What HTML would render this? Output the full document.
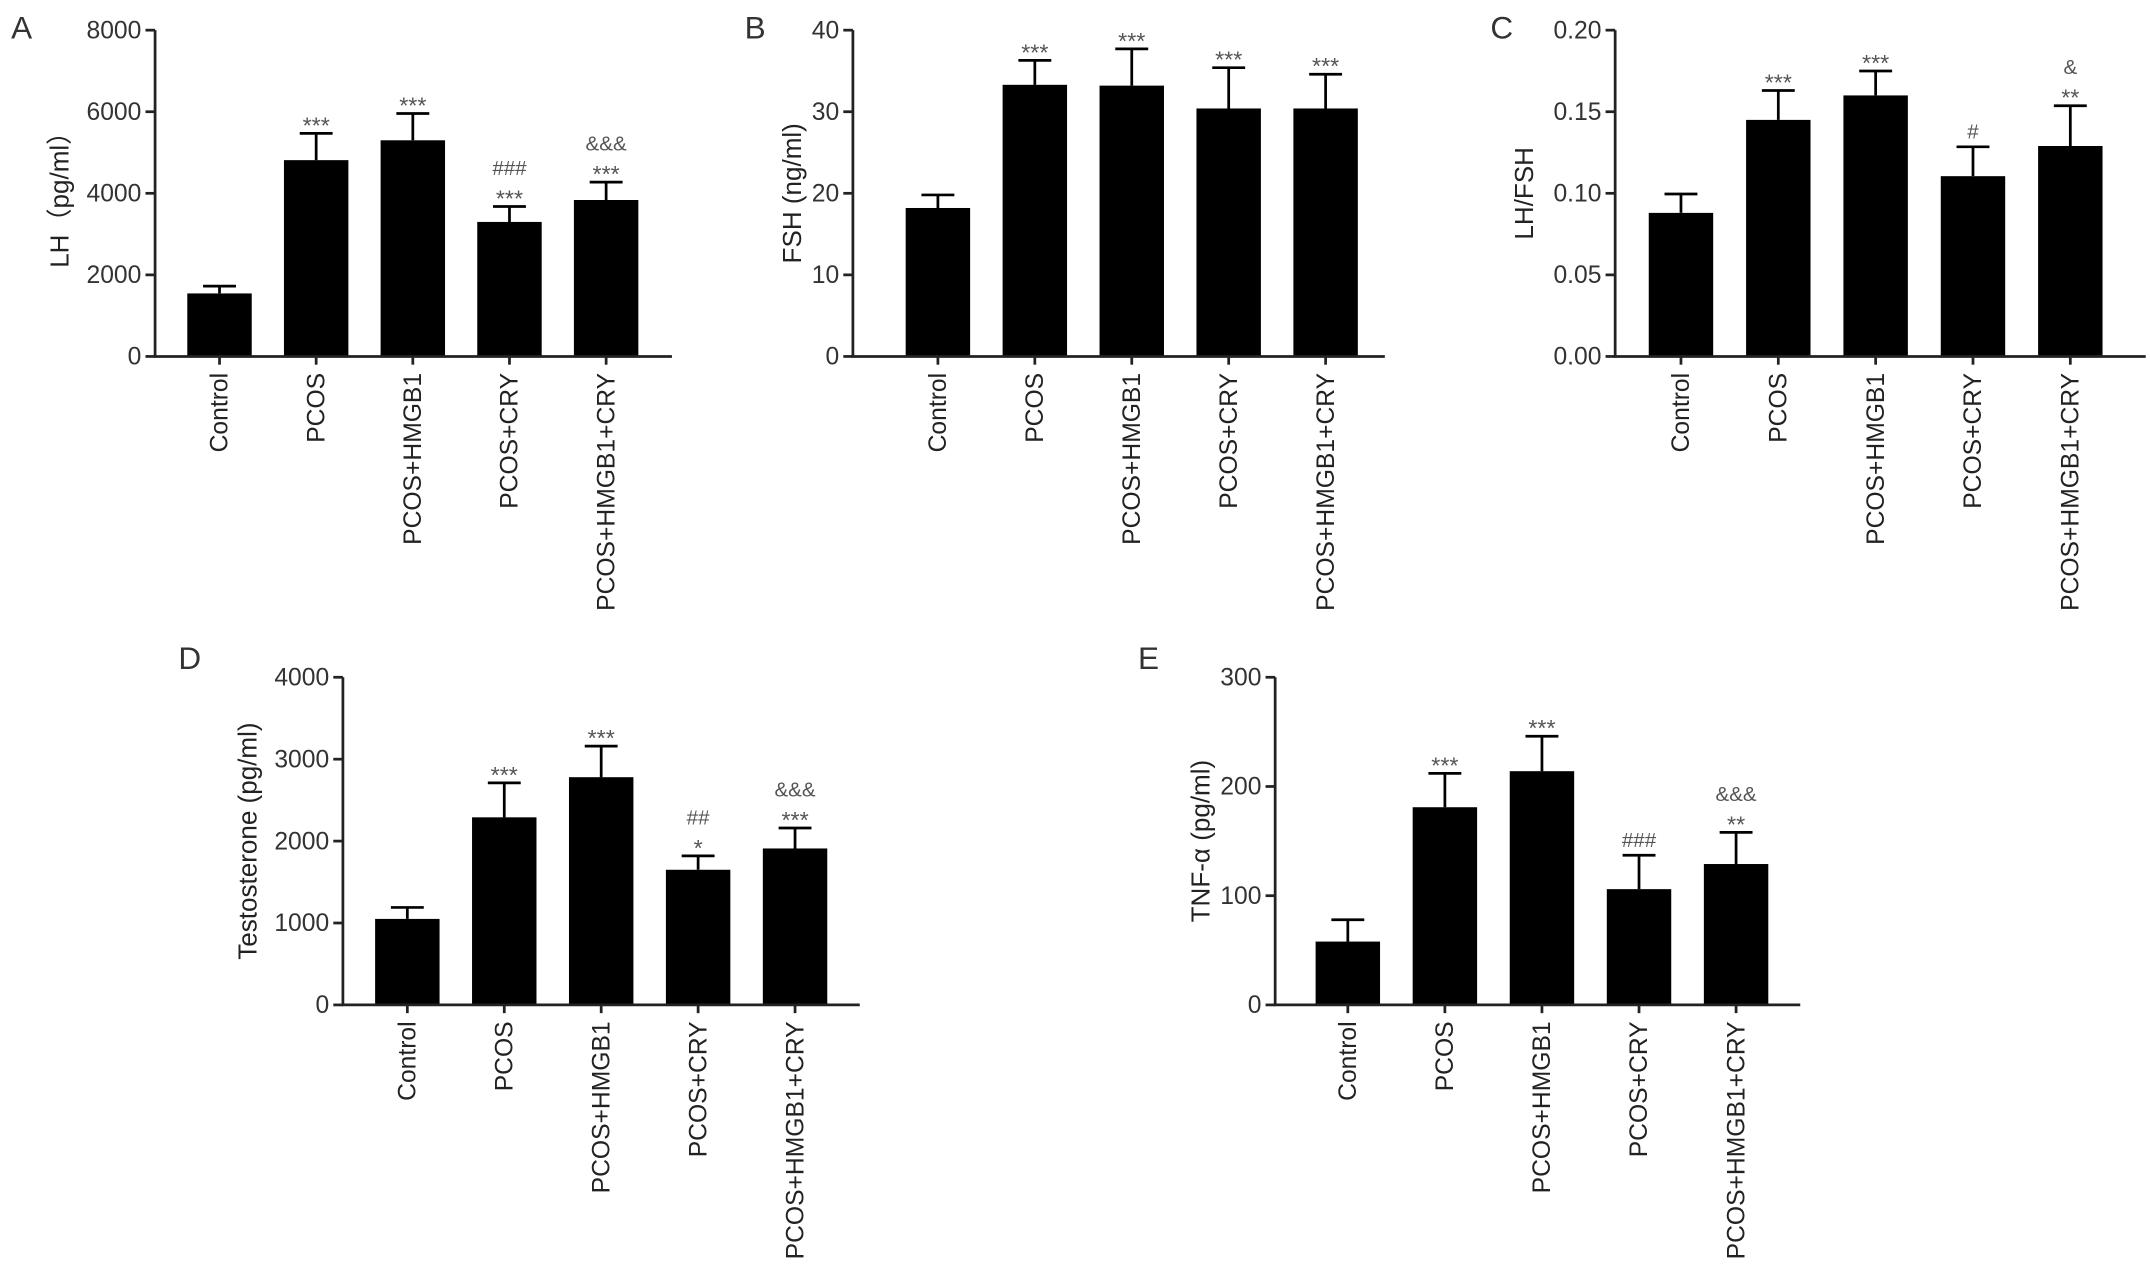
<!DOCTYPE html>
<html><head><meta charset="utf-8"><style>
html,body{margin:0;padding:0;background:#fff;}
svg{display:block;font-family:"Liberation Sans","Noto Sans CJK SC",sans-serif;}
</style></head><body>
<svg id="fig" width="2150" height="1275" viewBox="0 0 1568 930" xmlns="http://www.w3.org/2000/svg"></svg>
<script>
const categories = ["Control","PCOS","PCOS+HMGB1","PCOS+CRY","PCOS+HMGB1+CRY"];
const lhValues = [1545, 4813, 5300, 3298, 3836];
const lhErrors = [178, 657, 658, 378, 438];
const lhTicks = [0, 2000, 4000, 6000, 8000];
const lhMarks = [[], ["***"], ["***"], ["***","###"], ["***","&&&"]];
const fshValues = [18.2, 33.3, 33.2, 30.4, 30.4];
const fshErrors = [1.6, 3.0, 4.5, 5.0, 4.2];
const fshTicks = [0, 10, 20, 30, 40];
const fshMarks = [[], ["***"], ["***"], ["***"], ["***"]];
const ratioValues = [0.088, 0.145, 0.160, 0.1105, 0.129];
const ratioErrors = [0.0116, 0.018, 0.015, 0.018, 0.0247];
const ratioTicks = [0, 0.05, 0.10, 0.15, 0.20];
const ratioMarks = [[], ["***"], ["***"], ["#"], ["**","&"]];
const testoValues = [1050, 2290, 2780, 1650, 1910];
const testoErrors = [140, 420, 380, 170, 250];
const testoTicks = [0, 1000, 2000, 3000, 4000];
const testoMarks = [[], ["***"], ["***"], ["*","##"], ["***","&&&"]];
const tnfValues = [58, 181, 214, 106, 129];
const tnfErrors = [20, 31, 32, 31, 29];
const tnfTicks = [0, 100, 200, 300];
const tnfMarks = [[], ["***"], ["***"], ["###"], ["**","&&&"]];

const NS = "http://www.w3.org/2000/svg";
const svg = document.getElementById("fig");
function mk(tag, attrs, parent) {
  const e = document.createElementNS(NS, tag);
  for (const k in attrs) e.setAttribute(k, attrs[k]);
  (parent || svg).appendChild(e);
  return e;
}
function panel(cfg) {
  const g = mk("g", {});
  
  
  const yMax = cfg.ticks[cfg.ticks.length - 1];
  const y = v => cfg.y0 - (v / yMax) * (cfg.y0 - cfg.yTop);
  const x = i => cfg.x1 + cfg.first + i * cfg.step;
  const bw = 47;
  const L = mk("text", {x: cfg.lx, y: cfg.ly, "font-size": 23, fill: "#333"}, g);
  L.textContent = cfg.letter;
  
  
  cfg.values.forEach((v, i) => {
    const cx = x(i);
    const bar = mk("rect", {x: cx - bw/2, y: y(v), width: bw, height: cfg.y0 - y(v), fill: "#000"}, g);
    
    
    const et = y(v + cfg.errors[i]);
    const eb = mk("path", {d: `M${cx} ${y(v)}V${et}M${cx-12} ${et}H${cx+12}`, stroke: "#000", "stroke-width": 2, fill: "none"}, g);
    
    
    cfg.marks[i].forEach((m, j) => {
      const star = m.indexOf("*") >= 0;
      const t = mk("text", {x: cx, y: et - 6 - j * 17 + (star ? 6 : 0), "text-anchor": "middle", "font-size": star ? 17 : 15, fill: "#555"}, g);
      t.textContent = m;
      
      
    });
    const xl = mk("text", {transform: `translate(${cx + 6},${cfg.y0 + 12}) rotate(-90)`, "text-anchor": "end", "font-size": 18, fill: "#222"}, g);
    xl.textContent = categories[i];
    
    
    mk("line", {x1: cx, x2: cx, y1: cfg.y0, y2: cfg.y0 + 6, stroke: "#222", "stroke-width": 2}, g);
  });
  cfg.ticks.forEach(t => {
    mk("line", {x1: cfg.x1 - 7, x2: cfg.x1, y1: y(t), y2: y(t), stroke: "#222", "stroke-width": 2}, g);
    const tl = mk("text", {x: cfg.x1 - 10, y: y(t) + 6, "text-anchor": "end", "font-size": 18, fill: "#333"}, g);
    tl.textContent = cfg.fmt(t);
    
    
  });
  const ax = mk("path", {d: `M${cfg.x1} ${cfg.yTop}V${cfg.y0}H${cfg.x2}`, stroke: "#222", "stroke-width": 2, fill: "none"}, g);
  
  
  const yt = mk("text", {transform: `translate(${cfg.tx},${(cfg.y0 + cfg.yTop) / 2}) rotate(-90)`, "text-anchor": "middle", "font-size": 19, fill: "#222"}, g);
  yt.textContent = cfg.title;
  
  
}
panel({letter:"A", lx:8, ly:28, x1:113, x2:490, first:47, step:70.5, y0:260, yTop:22, values:lhValues, errors:lhErrors, ticks:lhTicks, marks:lhMarks, title:"LH（pg/ml）", tx:50, fmt:t=>String(t)});
panel({letter:"B", lx:543, ly:28, x1:622, x2:1010, first:62, step:70.7, y0:260, yTop:22, values:fshValues, errors:fshErrors, ticks:fshTicks, marks:fshMarks, title:"FSH (ng/ml)", tx:584, fmt:t=>String(t)});
panel({letter:"C", lx:1087, ly:28, x1:1178, x2:1565, first:48, step:71, y0:260, yTop:22, values:ratioValues, errors:ratioErrors, ticks:ratioTicks, marks:ratioMarks, title:"LH/FSH", tx:1118, fmt:t=>t.toFixed(2)});
panel({letter:"D", lx:130, ly:488, x1:250, x2:627, first:47, step:70.7, y0:733, yTop:494, values:testoValues, errors:testoErrors, ticks:testoTicks, marks:testoMarks, title:"Testosterone (pg/ml)", tx:187, fmt:t=>String(t)});
panel({letter:"E", lx:830, ly:488, x1:930, x2:1313, first:53, step:70.8, y0:733, yTop:494, values:tnfValues, errors:tnfErrors, ticks:tnfTicks, marks:tnfMarks, title:"TNF-α (pg/ml)", tx:882, fmt:t=>String(t)});
</script>
</body></html>
